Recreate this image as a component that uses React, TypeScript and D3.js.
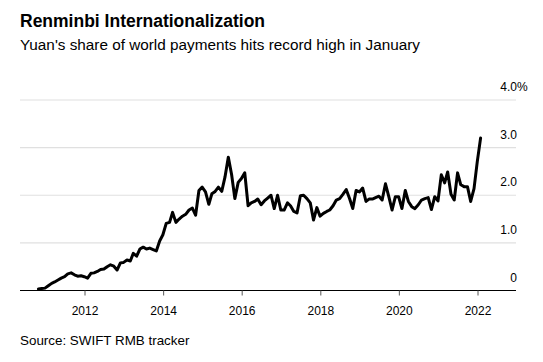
import React from "react";
import * as d3 from "d3";

const title = "Renminbi Internationalization";
const subtitle = "Yuan's share of world payments hits record high in January";
const source = "Source: SWIFT RMB tracker";

const startYear = 2010;
const startMonth = 9; // October (0-based)

// Monthly yuan share of world payments, % (Oct 2010 – Jan 2022)
const shareValues: number[] = [
  0.03, 0.04, 0.05,
  0.10, 0.15, 0.18, 0.22, 0.26, 0.29, 0.35, 0.37, 0.33, 0.30, 0.31, 0.29,
  0.26, 0.36, 0.37, 0.40, 0.44, 0.45, 0.50, 0.54, 0.51, 0.43, 0.58, 0.59,
  0.64, 0.62, 0.78, 0.72, 0.87, 0.91, 0.87, 0.89, 0.86, 0.83, 1.04, 1.17,
  1.41, 1.43, 1.64, 1.43, 1.50, 1.56, 1.60, 1.69, 1.73, 1.58, 2.10, 2.17,
  2.07, 1.81, 2.03, 2.08, 2.17, 2.08, 2.38, 2.80, 2.43, 1.93, 2.27, 2.35,
  2.47, 1.78, 1.84, 1.87, 1.92, 1.80, 1.88, 1.94, 2.00, 1.72, 2.00, 1.69,
  1.69, 1.84, 1.78, 1.66, 1.63, 1.99, 2.00, 1.93, 1.84, 1.48, 1.74, 1.56,
  1.62, 1.66, 1.69, 1.78, 1.90, 1.93, 2.02, 2.12, 1.93, 1.72, 2.10, 2.07,
  2.15, 1.87, 1.92, 1.92, 1.95, 1.98, 1.90, 2.24, 1.97, 1.69, 1.97, 1.97,
  1.72, 2.10, 1.87, 1.76, 1.72, 1.80, 1.90, 1.93, 1.95, 1.70, 1.97, 1.88,
  2.43, 2.26, 2.49, 2.02, 1.90, 2.47, 2.22, 2.18, 2.18, 1.87, 2.14, 2.70,
  3.20,
];

const xTickYears = [2012, 2014, 2016, 2018, 2020, 2022];
const yTicks = [0, 1, 2, 3, 4];

const FONT = "'Liberation Sans', Arial, Helvetica, sans-serif";

export default function App() {
  const W = 543;
  const H = 362;
  const plotLeft = 20;
  const plotRight = 516;

  const data = shareValues.map((v, i) => ({
    date: new Date(startYear, startMonth + i, 25),
    value: v,
  }));

  const x = d3
    .scaleTime()
    .domain([new Date(2012, 0, 1), new Date(2022, 0, 1)])
    .range([85, 478]);
  const y = d3.scaleLinear().domain([0, 4]).range([290.5, 100]);

  const line = d3
    .line<{ date: Date; value: number }>()
    .x((d) => x(d.date))
    .y((d) => y(d.value))
    .curve(d3.curveLinear);

  return (
    <div style={{ position: "absolute", left: 0, top: 0 }}>
      <svg width={W} height={H} style={{ display: "block", background: "#fff" }}>
        <text x={20} y={27} fontFamily={FONT} fontWeight={700} fontSize={17.5} fill="#000">
          {title}
        </text>
        <text x={20} y={50} fontFamily={FONT} fontSize={15.3} fill="#000">
          {subtitle}
        </text>

        {yTicks
          .filter((t) => t > 0)
          .map((t) => (
            <line
              key={"g" + t}
              x1={plotLeft}
              x2={plotRight}
              y1={y(t)}
              y2={y(t)}
              stroke="#e0e0e0"
              strokeWidth={1.2}
            />
          ))}

        {yTicks.map((t) => (
          <g key={"yl" + t}>
            <text
              x={517}
              y={y(t) - 9}
              textAnchor="end"
              fontFamily={FONT}
              fontSize={12}
              fill="#000"
            >
              {t === 0 ? "0" : d3.format(".1f")(t)}
            </text>
            {t === 4 && (
              <text x={517} y={y(t) - 9} fontFamily={FONT} fontSize={12} fill="#000">
                %
              </text>
            )}
          </g>
        ))}

        <line x1={plotLeft} x2={plotRight} y1={y(0)} y2={y(0)} stroke="#000" strokeWidth={1.2} />
        {xTickYears.map((yr) => {
          const px = x(new Date(yr, 0, 1));
          return (
            <g key={"x" + yr}>
              <line x1={px} x2={px} y1={y(0)} y2={y(0) + 5} stroke="#555" strokeWidth={1} />
              <text
                x={px}
                y={315}
                textAnchor="middle"
                fontFamily={FONT}
                fontSize={12}
                fill="#000"
              >
                {yr}
              </text>
            </g>
          );
        })}

        <path
          d={line(data) || ""}
          fill="none"
          stroke="#000"
          strokeWidth={3}
          strokeLinejoin="round"
          strokeLinecap="round"
        />

        <text x={20} y={345} fontFamily={FONT} fontSize={13.4} fill="#000">
          {source}
        </text>
      </svg>
    </div>
  );
}
